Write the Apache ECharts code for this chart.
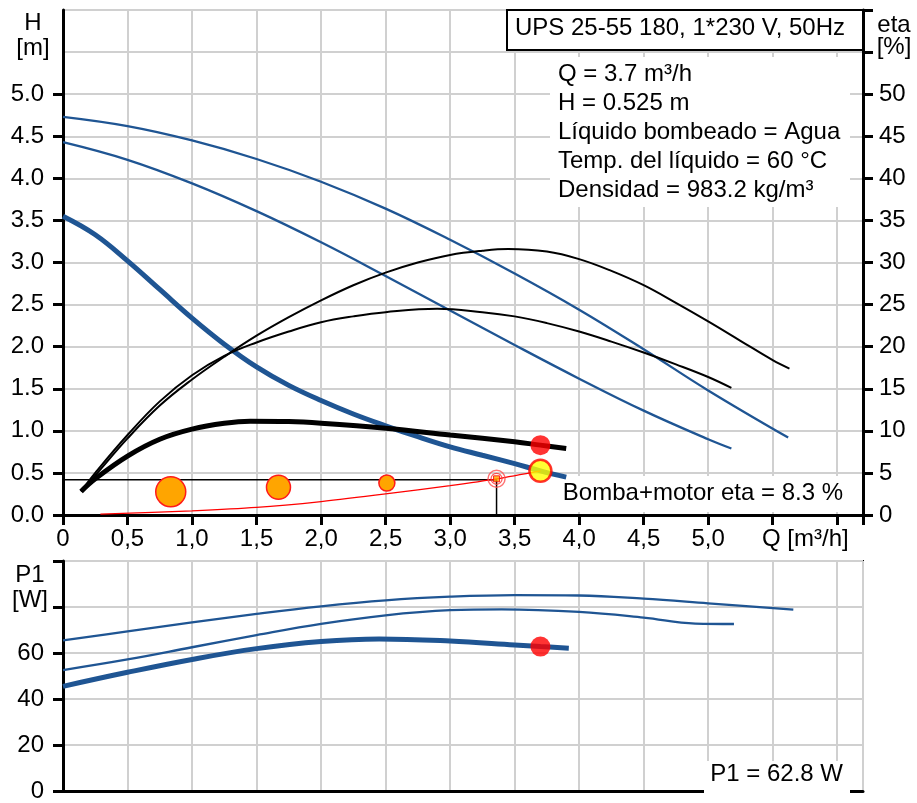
<!DOCTYPE html>
<html><head><meta charset="utf-8">
<script src="https://cdn.jsdelivr.net/npm/echarts@6/dist/echarts.min.js"></script>
<style>html,body{margin:0;padding:0;background:#fff}#c{width:917px;height:803px}</style>
</head><body><div id="c"></div>
<script>
const FONT = "'Liberation Sans', Arial, Helvetica, sans-serif";
const BLUE = '#1f5593';

// ---- H curves (head, m) ----
const qH1 = [0, 0.5, 1.0, 1.5, 2.0, 2.5, 3.0, 3.5, 4.0, 4.5, 5.0, 5.62];
const hH1 = [4.73, 4.62, 4.45, 4.23, 3.96, 3.64, 3.27, 2.87, 2.44, 1.97, 1.48, 0.92];
const qH2 = [0, 0.5, 1.0, 1.5, 2.0, 2.5, 3.0, 3.5, 4.0, 4.5, 5.0, 5.18];
const hH2 = [4.43, 4.22, 3.94, 3.61, 3.24, 2.84, 2.43, 2.02, 1.62, 1.24, 0.90, 0.79];
const qH3 = [0, 0.25, 0.5, 0.75, 1.0, 1.25, 1.5, 1.75, 2.0, 2.25, 2.5, 2.75, 3.0, 3.25, 3.5, 3.7, 3.9];
const hH3 = [3.55, 3.33, 3.02, 2.68, 2.34, 2.03, 1.76, 1.54, 1.36, 1.20, 1.06, 0.93, 0.81, 0.71, 0.61, 0.525, 0.45];

// ---- eta curves (%) ----
const qE1 = [0.14, 0.25, 0.5, 0.75, 1.0, 1.25, 1.5, 1.75, 2.0, 2.25, 2.5, 2.75, 3.0, 3.25, 3.45, 3.75, 4.0, 4.25, 4.5, 4.75, 5.0, 5.25, 5.5, 5.63];
const eE1 = [2.8, 4.7, 9.1, 13.0, 16.1, 18.8, 21.3, 23.5, 25.5, 27.3, 28.8, 30.0, 30.9, 31.4, 31.6, 31.3, 30.4, 29.0, 27.3, 25.2, 23.0, 20.7, 18.4, 17.4];
const qE2 = [0.14, 0.25, 0.5, 0.75, 1.0, 1.25, 1.5, 1.75, 2.0, 2.25, 2.5, 2.9, 3.25, 3.5, 3.75, 4.0, 4.25, 4.5, 4.75, 5.0, 5.18];
const eE2 = [2.8, 5.0, 9.5, 13.5, 16.6, 18.9, 20.5, 21.8, 22.9, 23.6, 24.1, 24.5, 24.1, 23.6, 22.8, 21.8, 20.6, 19.3, 17.9, 16.4, 15.1];
const qE3 = [0.14, 0.25, 0.5, 0.75, 1.0, 1.25, 1.45, 1.75, 2.0, 2.5, 3.0, 3.5, 3.7, 3.9];
const eE3 = [2.8, 4.3, 7.0, 9.0, 10.2, 10.9, 11.15, 11.1, 10.9, 10.3, 9.5, 8.7, 8.3, 7.9];

// ---- system curve ----
const qSys = [0.29, 1.0, 1.5, 2.0, 2.5, 3.0, 3.36, 3.7];
const hSys = [0.01, 0.05, 0.09, 0.16, 0.25, 0.35, 0.43, 0.525];

// ---- duty / reference markers ----
const qRefLine = [0, 3.36, 3.36];
const hRefLine = [0.42, 0.42, 0];
const qOrange = [0.835, 1.67, 2.51];
const hOrange = [0.276, 0.33, 0.38];
const sizeOrange = [30, 24, 16];
const qTarget = [3.36];
const hTarget = [0.43];
const qDuty = [3.7];
const hDuty = [0.525];
const etaDuty = [8.3];
const p1Duty = [62.8];

// ---- P1 curves (W) ----
const qP1 = [0, 0.5, 1.0, 1.5, 2.0, 2.5, 3.0, 3.5, 4.0, 4.5, 5.0, 5.66];
const pP1 = [65.5, 69.4, 73.3, 77.0, 80.3, 82.9, 84.5, 85.2, 85.0, 83.6, 81.6, 78.9];
const qP2 = [0, 0.5, 1.0, 1.5, 2.0, 2.5, 3.0, 3.4, 4.0, 4.5, 4.9, 5.2];
const pP2 = [52.6, 57.2, 62.5, 67.8, 72.7, 76.4, 78.6, 79.0, 77.9, 75.4, 72.8, 72.6];
const qP3 = [0, 0.5, 1.0, 1.5, 2.0, 2.45, 3.0, 3.5, 3.7, 3.92];
const pP3 = [45.5, 51.6, 57.2, 61.9, 65.0, 66.1, 65.2, 63.5, 62.8, 62.1];

// ---- ticks / texts ----
const hTicks = [0, 0.5, 1.0, 1.5, 2.0, 2.5, 3.0, 3.5, 4.0, 4.5, 5.0];
const titleText = 'UPS 25-55 180, 1*230 V, 50Hz';
const infoLines = ['Q = 3.7 m\u00b3/h', 'H = 0.525 m', 'L\u00edquido bombeado = Agua', 'Temp. del l\u00edquido = 60 \u00b0C', 'Densidad = 983.2 kg/m\u00b3'];
const etaText = 'Bomba+motor eta = 8.3 %';
const p1Text = 'P1 = 62.8 W';

const pairs = (xs, ys) => xs.map((x, i) => [x, ys[i]]);

const labelStyle = { fontSize: 24, fontFamily: FONT, color: '#000' };
const axisLine = { show: true, onZero: false, lineStyle: { color: '#000', width: 3 } };
const axisTick = { show: true, inside: false, length: 10, lineStyle: { color: '#000', width: 3 } };
const gridLine = { show: true, lineStyle: { color: '#d0d0d0', width: 2 } };

function line(xi, yi, data, color, width, extra) {
  return Object.assign({
    type: 'line', xAxisIndex: xi, yAxisIndex: yi, data: data,
    smooth: 0.4, showSymbol: false, symbol: 'none',
    lineStyle: { color: color, width: width }, z: 3, silent: true
  }, extra || {});
}

const chart = echarts.init(document.getElementById('c'), null, { renderer: 'canvas', width: 917, height: 803 });

const txt = (x, y, text, align, extra) => Object.assign({
  type: 'text', x: x, y: y, z: 20,
  style: { text: text, fontSize: 24, fontFamily: FONT, fill: '#000', align: align || 'left', verticalAlign: 'middle' }
}, extra || {});

chart.setOption({
  animation: false,
  backgroundColor: '#fff',
  grid: [
    { left: 63, right: 54, top: 10, height: 505, show: false },
    { left: 63, right: 54, top: 561, height: 236, show: true, borderColor: '#000', borderWidth: 2, backgroundColor: 'transparent' }
  ],
  xAxis: [
    { type: 'value', gridIndex: 0, min: 0, max: 6.2, interval: 0.5,
      axisLine: axisLine, axisTick: axisTick, splitLine: gridLine,
      axisLabel: Object.assign({ margin: 12, formatter: v => v === 0 ? '0' : (v <= 5.01 ? v.toFixed(1).replace('.', ',') : '') }, labelStyle) },
    { type: 'value', gridIndex: 1, min: 0, max: 6.2, interval: 0.5,
      axisLine: axisLine, axisTick: { show: false }, splitLine: gridLine, axisLabel: { show: false } }
  ],
  yAxis: [
    { type: 'value', gridIndex: 0, min: 0, max: 6, interval: 0.5, position: 'left',
      axisLine: axisLine, axisTick: Object.assign({ customValues: hTicks }, axisTick), splitLine: { show: false },
      axisLabel: Object.assign({ margin: 19, formatter: v => v <= 5.01 ? v.toFixed(1) : '' }, labelStyle) },
    { type: 'value', gridIndex: 0, min: 0, max: 60, interval: 5, position: 'right',
      axisLine: axisLine, axisTick: axisTick, splitLine: gridLine,
      axisLabel: Object.assign({ margin: 16, formatter: v => v <= 50 ? String(v) : '' }, labelStyle) },
    { type: 'value', gridIndex: 1, min: 0, max: 100, interval: 20, position: 'left',
      axisLine: axisLine, axisTick: axisTick, splitLine: gridLine,
      axisLabel: Object.assign({ margin: 19, formatter: v => v <= 60 ? String(v) : '' }, labelStyle) }
  ],
  series: [
    line(0, 0, pairs(qH1, hH1), BLUE, 2.3),
    line(0, 0, pairs(qH2, hH2), BLUE, 2.3),
    line(0, 0, pairs(qH3, hH3), BLUE, 5),
    line(0, 1, pairs(qE1, eE1), '#000', 2),
    line(0, 1, pairs(qE2, eE2), '#000', 2),
    line(0, 1, pairs(qE3, eE3), '#000', 5),
    line(0, 0, pairs(qRefLine, hRefLine), '#000', 1.5, { smooth: false }),
    line(0, 0, pairs(qSys, hSys), '#ff0000', 1.2, { smooth: 0.3 }),
    { type: 'scatter', xAxisIndex: 0, yAxisIndex: 0, data: pairs(qOrange, hOrange), z: 5,
      symbol: 'circle', symbolSize: (v, p) => sizeOrange[p.dataIndex],
      itemStyle: { color: '#ffa500', borderColor: '#ff1a1a', borderWidth: 1.5, opacity: 1 } },
    { type: 'scatter', xAxisIndex: 0, yAxisIndex: 0, data: pairs(qTarget, hTarget), z: 5,
      symbol: 'circle', symbolSize: 17,
      itemStyle: { color: 'rgba(255,255,255,0)', borderColor: '#ff5050', borderWidth: 1.5 } },
    { type: 'scatter', xAxisIndex: 0, yAxisIndex: 0, data: pairs(qTarget, hTarget), z: 6,
      symbol: 'circle', symbolSize: 11,
      itemStyle: { color: 'rgba(255,255,255,0)', borderColor: '#ff3030', borderWidth: 1.2 } },
    { type: 'scatter', xAxisIndex: 0, yAxisIndex: 0, data: pairs(qTarget, hTarget), z: 7,
      symbol: 'rect', symbolSize: 6,
      itemStyle: { color: '#ffa500', borderColor: '#ff0000', borderWidth: 1 } },
    { type: 'scatter', xAxisIndex: 0, yAxisIndex: 1, data: pairs(qDuty, etaDuty), z: 8,
      symbol: 'circle', symbolSize: 20, itemStyle: { color: '#ff0000' } },
    { type: 'scatter', xAxisIndex: 0, yAxisIndex: 0, data: pairs(qDuty, hDuty), z: 8,
      symbol: 'circle', symbolSize: 22, itemStyle: { color: '#ffff00', borderColor: '#ff0000', borderWidth: 2.5 } },
    line(1, 2, pairs(qP1, pP1), BLUE, 2.3),
    line(1, 2, pairs(qP2, pP2), BLUE, 2.3),
    line(1, 2, pairs(qP3, pP3), BLUE, 5),
    { type: 'scatter', xAxisIndex: 1, yAxisIndex: 2, data: pairs(qDuty, p1Duty), z: 8,
      symbol: 'circle', symbolSize: 20, itemStyle: { color: '#ff0000' } }
  ],
  graphic: [
    { type: 'rect', z: 10, shape: { x: 507, y: 10, width: 356, height: 40 }, style: { fill: '#fff', stroke: '#000', lineWidth: 2 } },
    txt(515, 28, titleText, 'left'),
    { type: 'rect', z: 1, shape: { x: 550, y: 57, width: 300, height: 150 }, style: { fill: '#fff' } },
    { type: 'text', x: 558, y: 60, z: 20,
      style: { text: infoLines.join('\n'), fontSize: 24, lineHeight: 29, fontFamily: FONT, fill: '#000', align: 'left', verticalAlign: 'top' } },
    { type: 'rect', z: 1, shape: { x: 556, y: 476, width: 298, height: 36 }, style: { fill: '#fff' } },
    txt(843, 493, etaText, 'right'),
    { type: 'rect', z: 1, shape: { x: 704, y: 761, width: 146, height: 33 }, style: { fill: '#fff' } },
    txt(843, 774, p1Text, 'right'),
    txt(33, 23, 'H', 'center'),
    txt(33, 48, '[m]', 'center'),
    txt(894, 25, 'eta', 'center'),
    txt(894, 47, '[%]', 'center'),
    txt(30, 575, 'P1', 'center'),
    txt(30, 600, '[W]', 'center'),
    txt(762, 539, 'Q [m\u00b3/h]', 'left')
  ]
});
</script>
</body></html>
